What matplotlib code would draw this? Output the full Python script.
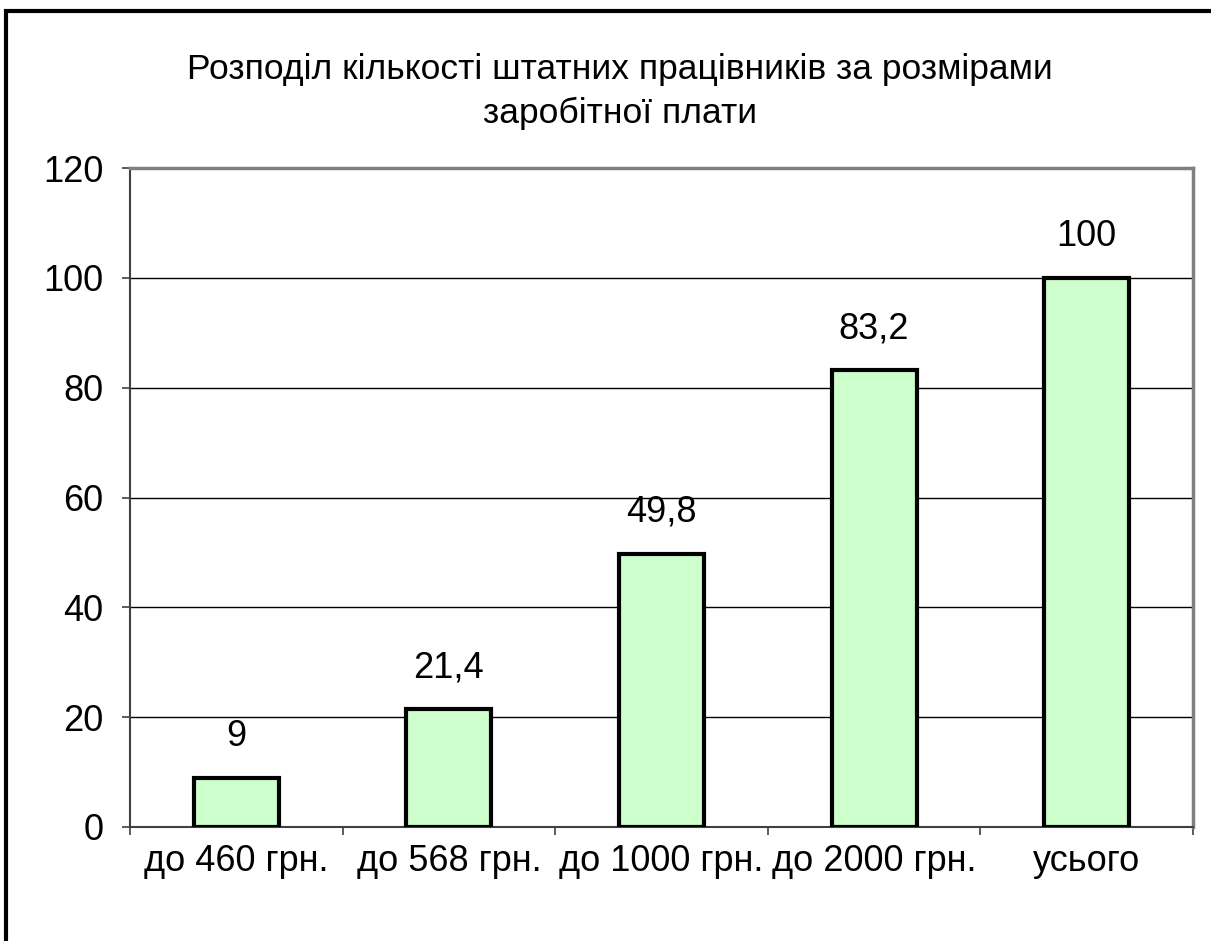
import numpy as np
import matplotlib.pyplot as plt
from matplotlib.patches import Rectangle

plt.rcParams['font.family'] = ['Liberation Sans', 'DejaVu Sans']

categories = ['до 460 грн.', 'до 568 грн.', 'до 1000 грн.', 'до 2000 грн.', 'усього']
values = [9, 21.4, 49.8, 83.2, 100]
labels = ['9', '21,4', '49,8', '83,2', '100']

fig = plt.figure(figsize=(12.11, 9.41), dpi=100)
ax = fig.add_axes([130/1211, 1-827/941, (1193-130)/1211, (827-168)/941])

x = np.arange(len(categories))
ax.bar(x, values, width=0.4, color='#ccffcc', edgecolor='black', linewidth=3, zorder=3)

for xi, v, lab in zip(x, values, labels):
    ax.annotate(lab, (xi, v), xytext=(0, 17), textcoords='offset points',
                ha='center', va='bottom', fontsize=26)

ax.set_xlim(-0.5, len(categories) - 0.5)
ax.set_ylim(0, 120)
ax.set_yticks(range(0, 121, 20))
ax.yaxis.grid(True, color='black', linewidth=1, zorder=0)
ax.set_axisbelow(True)

ax.set_xticks(x)
ax.set_xticklabels(categories, fontsize=26)
ax.set_xticks(np.arange(-0.5, len(categories)), minor=True)
ax.tick_params(axis='x', which='major', length=0, pad=12)
ax.tick_params(axis='x', which='minor', length=6, width=1.2, color='#404040')
ax.tick_params(axis='y', labelsize=26, length=6, width=1.2, color='#404040', pad=13)

for s in ['top', 'right']:
    ax.spines[s].set_color('#808080')
    ax.spines[s].set_linewidth(2.5)
for s in ['left', 'bottom']:
    ax.spines[s].set_color('#404040')
    ax.spines[s].set_linewidth(1.5)

fig.text(620/1211, 1-70/941, 'Розподіл кількості штатних працівників за розмірами',
         ha='center', va='center', fontsize=25.5)
fig.text(620/1211, 1-113/941, 'заробітної плати', ha='center', va='center', fontsize=25.5)

fig.patches.append(Rectangle((6/1211, -0.1), 1.2, 1 - 11/941 + 0.1, transform=fig.transFigure,
                             fill=False, edgecolor='black', linewidth=3))

fig.savefig('out.png', dpi=100)
